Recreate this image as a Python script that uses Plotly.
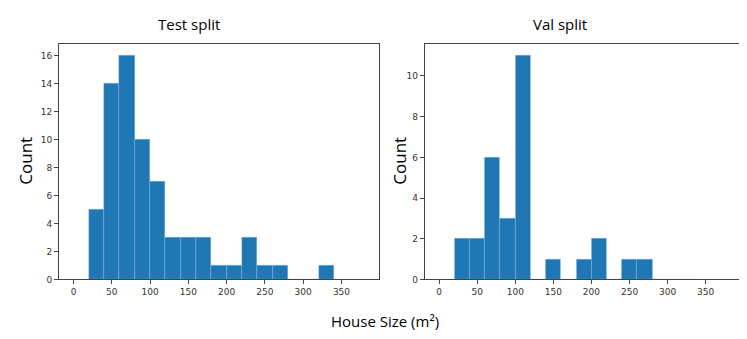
import plotly.graph_objects as go

# histogram bins (left edges, width 20 m2)
bin_left = [20, 40, 60, 80, 100, 120, 140, 160, 180, 200, 220, 240, 260, 280, 300, 320]
bin_width = 20

test_counts = [5, 14, 16, 10, 7, 3, 3, 3, 1, 1, 3, 1, 1, 0, 0, 1]
val_counts = [2, 2, 6, 3, 11, 0, 1, 0, 1, 2, 0, 1, 1, 0, 0, 0]

x_ticks = [0, 50, 100, 150, 200, 250, 300, 350]
test_yticks = [0, 2, 4, 6, 8, 10, 12, 14, 16]
val_yticks = [0, 2, 4, 6, 8, 10]

azul = '#1f77b4'
centros = [b + bin_width / 2 for b in bin_left]

fig = go.Figure()

for cont, xa, ya in [(test_counts, 'x', 'y'), (val_counts, 'x2', 'y2')]:
    fig.add_trace(go.Bar(
        x=centros, y=cont, width=bin_width,
        marker=dict(color=azul, line=dict(width=0.5, color='rgba(150,190,225,0.7)')),
        xaxis=xa, yaxis=ya, showlegend=False,
    ))

eixo = dict(
    showgrid=False, zeroline=False, showline=True, mirror=True,
    linecolor='#444', linewidth=1, ticks='outside', ticklen=4,
    tickcolor='#444', tickfont=dict(family='DejaVu Sans', size=9, color='#333'),
)

W, H = 747, 339
yd = [1 - 275.5 / H, 1 - 37 / H]

fig.update_layout(
    width=W, height=H,
    margin=dict(l=0, r=0, t=0, b=0),
    plot_bgcolor='white', paper_bgcolor='white',
    bargap=0,
    xaxis=dict(eixo, domain=[51 / W, 371 / W], range=[-19, 399],
               tickvals=x_ticks, anchor='y'),
    yaxis=dict(eixo, domain=yd, range=[0, 16.8], tickvals=test_yticks, anchor='x'),
    xaxis2=dict(eixo, domain=[416.7 / W, 735 / W], range=[-19, 399],
                tickvals=x_ticks, anchor='y2'),
    yaxis2=dict(eixo, domain=yd, range=[0, 11.55], tickvals=val_yticks, anchor='x2'),
)

fonte = dict(family='Open Sans', color='black', weight=400)
anotacoes = [
    dict(text='Test split', x=181, y=16, size=15, angle=0),
    dict(text='Val split', x=552, y=16, size=15, angle=0),
    dict(text='Count', x=18, y=155, size=17, angle=-90),
    dict(text='Count', x=392, y=155, size=17, angle=-90),
    dict(text='House Size (m²)', x=377, y=318, size=15, angle=0),
]
for a in anotacoes:
    fig.add_annotation(
        text=a['text'], x=a['x'] / W, y=1 - a['y'] / H,
        xref='paper', yref='paper', xanchor='center', yanchor='middle',
        showarrow=False, textangle=a['angle'], font=dict(fonte, size=a['size']),
    )

fig.write_html("out.html")
